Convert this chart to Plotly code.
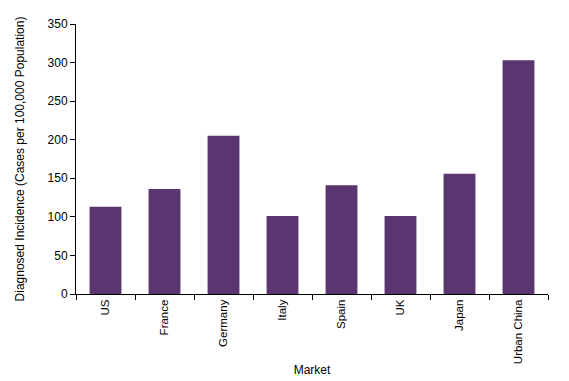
import plotly.graph_objects as go

markets = ["US", "France", "Germany", "Italy", "Spain", "UK", "Japan", "Urban China"]
incidence = [113, 136, 205, 101, 141, 101, 156, 303]
y_ticks = [0, 50, 100, 150, 200, 250, 300, 350]

fam = "Liberation Sans, Arial, sans-serif"
font = dict(family=fam, size=11.5, color="#000000")

fig = go.Figure(go.Bar(x=markets, y=incidence, marker=dict(color="#5A3570", line=dict(width=0)),
                       width=0.54))
# page body has an 8px default margin, so the figure is shrunk by 8px on top/left
fig.update_layout(
    width=561, height=373,
    margin=dict(l=68, r=21, t=16, b=87),
    paper_bgcolor="white", plot_bgcolor="white",
    font=font, showlegend=False, bargap=0.46,
    xaxis=dict(title=dict(text="Market", font=dict(family=fam, size=12, color="#000"), standoff=2),
               showline=True, linecolor="black", linewidth=1, automargin=False,
               ticks="outside", ticklen=5, tickcolor="black", tickson="boundaries",
               tickangle=-90, showgrid=False, tickfont=font),
    yaxis=dict(title=dict(text="Diagnosed Incidence (Cases per 100,000 Population)",
                          font=dict(family=fam, size=12, color="#000"), standoff=20),
               range=[0, 350], tickvals=y_ticks, showline=True, linecolor="black", linewidth=1,
               ticks="outside", ticklen=5, tickcolor="black", showgrid=False, zeroline=False,
               tickfont=dict(family=fam, size=12, color="#000"), automargin=False),
)
fig.write_html("out.html")
